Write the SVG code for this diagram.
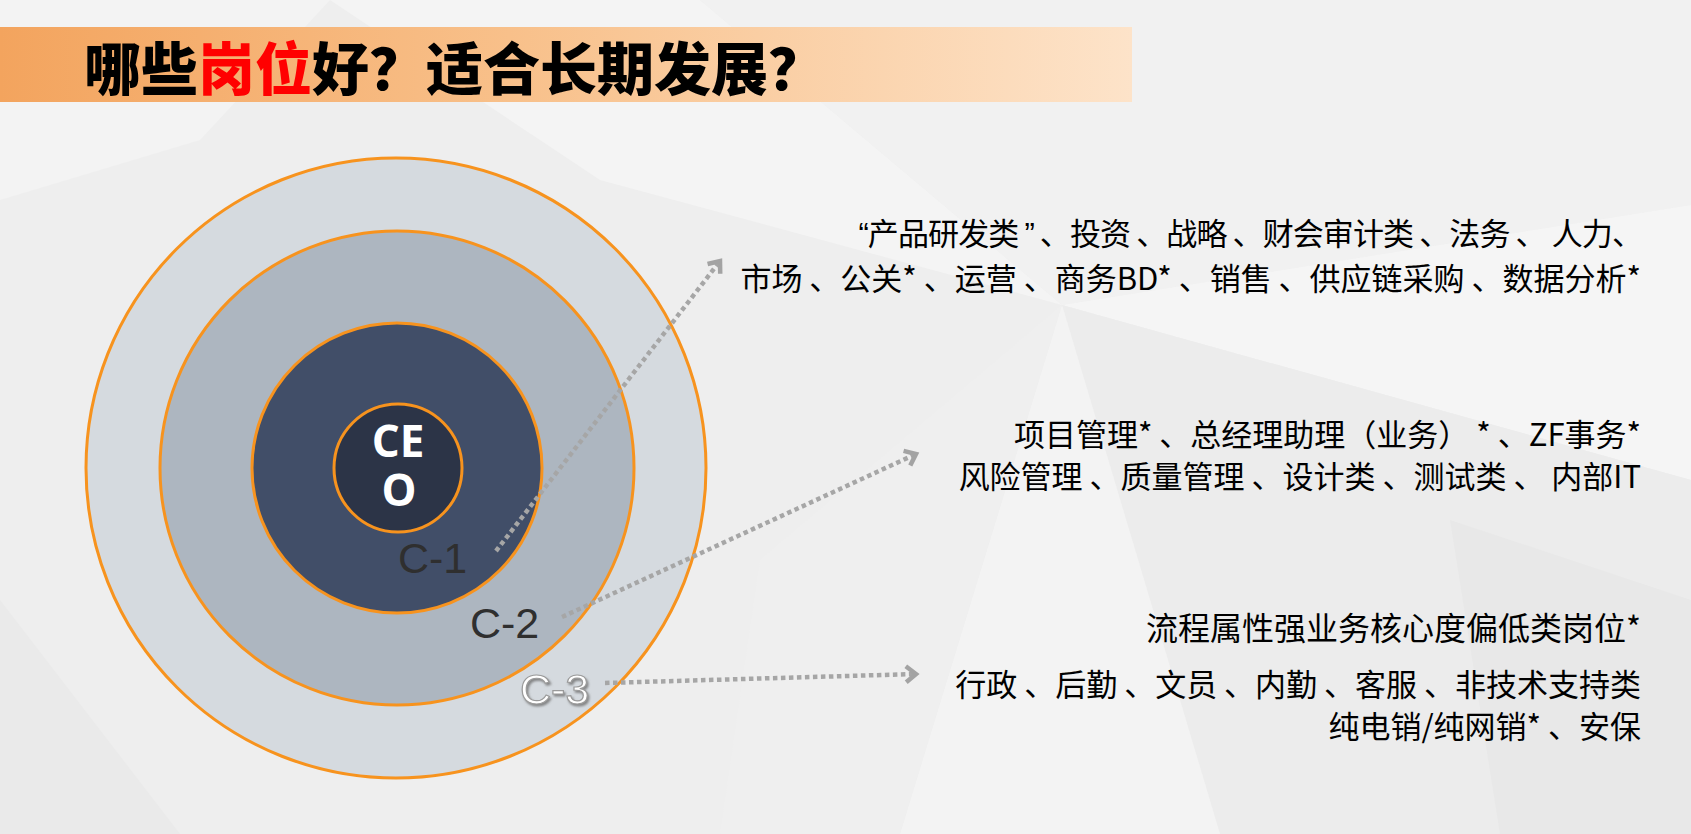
<svg xmlns="http://www.w3.org/2000/svg" width="1691" height="834" viewBox="0 0 1691 834">
  <defs>
    <linearGradient id="band" x1="0" y1="0" x2="1" y2="0">
      <stop offset="0" stop-color="#f3a45e"/>
      <stop offset="0.45" stop-color="#f8c08a"/>
      <stop offset="1" stop-color="#fde3c9"/>
    </linearGradient>
    <marker id="chev" markerUnits="userSpaceOnUse" markerWidth="24" markerHeight="24" viewBox="-14 -12 18 24" refX="0" refY="0" orient="auto">
      <path d="M-10,-8 L0,0 L-10,8" fill="none" stroke="#a3a3a3" stroke-width="4.5" stroke-linejoin="miter" stroke-linecap="butt"/>
    </marker>
    <filter id="sh" x="-20%" y="-20%" width="140%" height="140%">
      <feDropShadow dx="1.5" dy="2" stdDeviation="1.2" flood-color="#6f6f6f" flood-opacity="0.8"/>
    </filter>
  </defs>
  <style>
    .ring { stroke: #f7931e; stroke-width: 3; }
    .body { font-family: "Noto Sans CJK SC", "Noto Sans", sans-serif; font-size: 31px; fill: #000; text-anchor: end; }
    .lat { font-family: "Liberation Sans", Arial, sans-serif; }
    .clab { font-family: "Liberation Sans", Arial, sans-serif; font-size: 43px; }
    .conn { fill: none; stroke: #a6a6a6; stroke-width: 4.5; stroke-dasharray: 4.5 3.5; marker-end: url(#chev); }
  </style>

  <g id="background">
    <rect x="0" y="0" width="1691" height="834" fill="#eeeeee"/>
    <polygon points="0,0 330,0 200,140 0,200" fill="#f3f3f3"/>
    <polygon points="330,0 700,0 1062,305 600,180" fill="#f4f4f4"/>
    <polygon points="700,0 1691,0 1691,205 1062,305" fill="#f1f1f1"/>
    <polygon points="1062,305 1691,205 1691,480" fill="#f5f5f5"/>
    <polygon points="1062,305 1691,480 1691,834 1220,834" fill="#ececec"/>
    <polygon points="1062,305 1220,834 900,834" fill="#f3f3f3"/>
    <polygon points="1062,305 900,834 720,834 760,560" fill="#efefef"/>
    <polygon points="0,600 180,834 0,834" fill="#eaeaea"/>
    <polygon points="1450,520 1691,600 1691,834 1500,834" fill="#e8e8e8"/>
  </g>

  <g id="title">
    <rect x="0" y="27" width="1132" height="75" fill="url(#band)"/>
    <text x="84" y="90" font-family="Noto Sans CJK SC, Noto Sans, sans-serif" font-size="57" font-weight="900" fill="#000">哪些<tspan fill="#ff0000">岗位</tspan>好？适合长期发展？</text>
  </g>

  <g id="ring-c3"><circle class="ring" cx="396" cy="468" r="310" fill="#d5dadf"/></g>
  <g id="ring-c2"><circle class="ring" cx="397" cy="468" r="237" fill="#adb6c0"/></g>
  <g id="ring-c1"><circle class="ring" cx="397" cy="468" r="145" fill="#414e68"/></g>
  <g id="ceo">
    <circle class="ring" cx="398" cy="468" r="64" fill="#2c3447"/>
    <text font-family="Open Sans, Liberation Sans, sans-serif" font-size="44" font-weight="bold" fill="#ffffff" text-anchor="middle"><tspan x="398" y="457">CE</tspan><tspan x="399" y="506">O</tspan></text>
  </g>

  <g id="connectors">
    <path class="conn" d="M496,551 L720,261"/>
    <path class="conn" d="M562,617 L916,454"/>
    <path class="conn" d="M605,683 L916,674"/>
  </g>

  <g id="label-c1"><text class="clab" x="398" y="573" fill="#2f2f2f">C-1</text></g>
  <g id="label-c2"><text class="clab" x="470" y="638" fill="#2f2f2f">C-2</text></g>
  <g id="label-c3"><text class="clab" x="520" y="704" fill="#ffffff" stroke="#9a9a9a" stroke-width="1.2" filter="url(#sh)">C-3</text></g>

  <g id="text-c1">
    <text class="body" x="1642" y="245" letter-spacing="-0.9"><tspan class="lat">“</tspan>产品研发类 <tspan class="lat">”</tspan> 、投资 、战略 、财会审计类 、法务 、 人力、</text>
    <text class="body" x="1641" y="290">市场 、公关* 、运营 、商务BD* 、销售 、供应链采购 、数据分析*</text>
  </g>
  <g id="text-c2">
    <text class="body" x="1641" y="446">项目管理* 、总经理助理（业务） * 、ZF事务*</text>
    <text class="body" x="1641" y="488">风险管理 、质量管理 、设计类 、测试类 、 内部IT</text>
  </g>
  <g id="text-c3">
    <text class="body" x="1641" y="640" style="font-size:32px">流程属性强业务核心度偏低类岗位*</text>
    <text class="body" x="1641" y="696">行政 、后勤 、文员 、内勤 、客服 、非技术支持类</text>
    <text class="body" x="1641" y="738">纯电销/纯网销* 、安保</text>
  </g>
</svg>
